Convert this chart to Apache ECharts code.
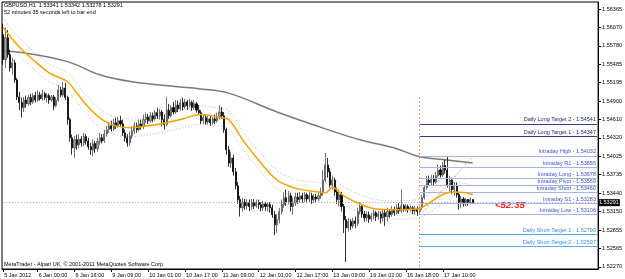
<!DOCTYPE html>
<html><head><meta charset="utf-8">
<script src="https://cdn.jsdelivr.net/npm/echarts@6/dist/echarts.min.js"></script>
<style>html,body{margin:0;padding:0;background:#fff}#c{width:625px;height:279px}</style>
</head><body><div id="c"></div>
<script>
// ---- data ----
const opens=[1.5596,1.5556,1.5591,1.5564,1.5543,1.5551,1.5524,1.5497,1.5488,1.5480,1.5492,
1.5486,1.5496,1.5489,1.5499,1.5492,1.5500,1.5494,1.5502,1.5496,1.5499,
1.5492,1.5497,1.5483,1.5492,1.5508,1.5500,1.5511,1.5496,1.5461,1.5432,
1.5416,1.5429,1.5421,1.5430,1.5424,1.5434,1.5427,1.5418,1.5413,1.5423,
1.5415,1.5426,1.5432,1.5427,1.5438,1.5445,1.5451,1.5446,1.5456,1.5451,
1.5459,1.5454,1.5440,1.5432,1.5424,1.5435,1.5443,1.5451,1.5445,1.5454,
1.5450,1.5461,1.5465,1.5459,1.5467,1.5462,1.5472,1.5467,1.5473,1.5461,
1.5453,1.5476,1.5467,1.5480,1.5473,1.5484,1.5478,1.5488,1.5481,1.5489,
1.5483,1.5488,1.5480,1.5486,1.5476,1.5472,1.5459,1.5464,1.5457,1.5462,
1.5456,1.5462,1.5459,1.5465,1.5473,1.5467,1.5445,1.5413,1.5392,1.5400,
1.5378,1.5356,1.5334,1.5321,1.5330,1.5324,1.5329,1.5323,1.5329,1.5324,
1.5330,1.5326,1.5321,1.5327,1.5323,1.5326,1.5321,1.5310,1.5294,1.5302,
1.5315,1.5326,1.5337,1.5330,1.5340,1.5323,1.5329,1.5338,1.5334,1.5340,
1.5335,1.5342,1.5335,1.5340,1.5334,1.5338,1.5335,1.5340,1.5345,1.5365,
1.5389,1.5378,1.5357,1.5365,1.5346,1.5334,1.5342,1.5323,1.5302,1.5289,
1.5299,1.5292,1.5300,1.5296,1.5315,1.5323,1.5311,1.5305,1.5310,1.5303,
1.5308,1.5313,1.5307,1.5311,1.5305,1.5313,1.5307,1.5315,1.5310,1.5318,
1.5313,1.5321,1.5316,1.5324,1.5319,1.5323,1.5318,1.5321,1.5316,1.5319,
1.5315,1.5321,1.5337,1.5353,1.5365,1.5361,1.5367,1.5362,1.5372,1.5381,
1.5373,1.5388,1.5381,1.5357,1.5365,1.5350,1.5356,1.5342,1.5329,1.5335,
1.5327,1.5334,1.5329,1.53341];
const closes=[1.5556,1.5591,1.5564,1.5543,1.5551,1.5524,1.5497,1.5488,1.5480,1.5492,1.5486,
1.5496,1.5489,1.5499,1.5492,1.5500,1.5494,1.5502,1.5496,1.5499,1.5492,
1.5497,1.5483,1.5492,1.5508,1.5500,1.5511,1.5496,1.5461,1.5432,1.5416,
1.5429,1.5421,1.5430,1.5424,1.5434,1.5427,1.5418,1.5413,1.5423,1.5415,
1.5426,1.5432,1.5427,1.5438,1.5445,1.5451,1.5446,1.5456,1.5451,1.5459,
1.5454,1.5440,1.5432,1.5424,1.5435,1.5443,1.5451,1.5445,1.5454,1.5450,
1.5461,1.5465,1.5459,1.5467,1.5462,1.5472,1.5467,1.5473,1.5461,1.5453,
1.5476,1.5467,1.5480,1.5473,1.5484,1.5478,1.5488,1.5481,1.5489,1.5483,
1.5488,1.5480,1.5486,1.5476,1.5472,1.5459,1.5464,1.5457,1.5462,1.5456,
1.5462,1.5459,1.5465,1.5473,1.5467,1.5445,1.5413,1.5392,1.5400,1.5378,
1.5356,1.5334,1.5321,1.5330,1.5324,1.5329,1.5323,1.5329,1.5324,1.5330,
1.5326,1.5321,1.5327,1.5323,1.5326,1.5321,1.5310,1.5294,1.5302,1.5315,
1.5326,1.5337,1.5330,1.5340,1.5323,1.5329,1.5338,1.5334,1.5340,1.5335,
1.5342,1.5335,1.5340,1.5334,1.5338,1.5335,1.5340,1.5345,1.5365,1.5389,
1.5378,1.5357,1.5365,1.5346,1.5334,1.5342,1.5323,1.5302,1.5289,1.5299,
1.5292,1.5300,1.5296,1.5315,1.5323,1.5311,1.5305,1.5310,1.5303,1.5308,
1.5313,1.5307,1.5311,1.5305,1.5313,1.5307,1.5315,1.5310,1.5318,1.5313,
1.5321,1.5316,1.5324,1.5319,1.5323,1.5318,1.5321,1.5316,1.5319,1.5315,
1.5321,1.5337,1.5353,1.5365,1.5361,1.5367,1.5362,1.5372,1.5381,1.5373,
1.5388,1.5381,1.5357,1.5365,1.5350,1.5356,1.5342,1.5329,1.5335,1.5327,
1.5334,1.5329,1.5334,1.53291];
const lows=[1.5548,1.5543,1.5559,1.5537,1.5532,1.5519,1.5492,1.5476,1.5464,1.5473,1.5480,
1.5483,1.5484,1.5486,1.5488,1.5489,1.5491,1.5491,1.5492,1.5488,1.5486,
1.5489,1.5476,1.5480,1.5489,1.5496,1.5497,1.5492,1.5453,1.5426,1.5405,
1.5400,1.5413,1.5416,1.5418,1.5419,1.5421,1.5413,1.5405,1.5403,1.5408,
1.5410,1.5421,1.5423,1.5424,1.5434,1.5440,1.5442,1.5443,1.5446,1.5448,
1.5450,1.5435,1.5426,1.5418,1.5419,1.5430,1.5438,1.5440,1.5442,1.5445,
1.5446,1.5456,1.5454,1.5456,1.5457,1.5459,1.5462,1.5461,1.5450,1.5445,
1.5450,1.5462,1.5464,1.5469,1.5470,1.5473,1.5475,1.5476,1.5478,1.5476,
1.5480,1.5475,1.5476,1.5472,1.5469,1.5454,1.5454,1.5453,1.5453,1.5451,
1.5453,1.5454,1.5456,1.5461,1.5462,1.5440,1.5405,1.5386,1.5384,1.5372,
1.5350,1.5327,1.5307,1.5315,1.5318,1.5318,1.5316,1.5318,1.5319,1.5321,
1.5319,1.5315,1.5316,1.5316,1.5315,1.5313,1.5305,1.5278,1.5281,1.5296,
1.5310,1.5321,1.5324,1.5326,1.5315,1.5310,1.5324,1.5327,1.5329,1.5329,
1.5330,1.5329,1.5330,1.5327,1.5329,1.5330,1.5332,1.5335,1.5340,1.5361,
1.5369,1.5353,1.5350,1.5340,1.5327,1.5323,1.5315,1.5281,1.5235,1.5283,
1.5286,1.5288,1.5289,1.5292,1.5310,1.5305,1.5299,1.5300,1.5297,1.5299,
1.5302,1.5300,1.5302,1.5296,1.5299,1.5292,1.5299,1.5305,1.5307,1.5308,
1.5310,1.5311,1.5313,1.5315,1.5315,1.5313,1.5315,1.5311,1.5310,1.5308,
1.53106,1.5318,1.5334,1.5350,1.5356,1.5357,1.5357,1.5359,1.5369,1.5369,
1.5370,1.5375,1.5353,1.5346,1.5343,1.5340,1.5337,1.5318,1.5321,1.5323,
1.5324,1.5324,1.5326,1.53278];
const highs=[1.5613,1.5607,1.5603,1.5572,1.5559,1.5556,1.5527,1.5505,1.5496,1.5497,1.5499,
1.5500,1.5502,1.5503,1.5505,1.5507,1.5505,1.5508,1.5505,1.5503,1.5502,
1.5500,1.5500,1.5496,1.5516,1.5513,1.5521,1.5519,1.5499,1.5464,1.5437,
1.5435,1.5437,1.5438,1.5435,1.5440,1.5438,1.5432,1.5424,1.5429,1.5427,
1.5432,1.5440,1.5438,1.5445,1.5451,1.5457,1.5459,1.5462,1.5464,1.5465,
1.5467,1.5461,1.5445,1.5438,1.5442,1.5450,1.5457,1.5456,1.5461,1.5461,
1.5469,1.5472,1.5470,1.5473,1.5472,1.5476,1.5480,1.5478,1.5476,1.5469,
1.5497,1.5486,1.5484,1.5489,1.5492,1.5491,1.5494,1.5496,1.5494,1.5492,
1.5494,1.5491,1.5492,1.5489,1.5484,1.5476,1.5470,1.5469,1.5467,1.5467,
1.5465,1.5469,1.5472,1.5484,1.5481,1.5473,1.5448,1.5419,1.5410,1.5405,
1.5384,1.5362,1.5340,1.5337,1.5335,1.5335,1.5334,1.5335,1.5335,1.5334,
1.5334,1.5330,1.5332,1.5330,1.5329,1.5330,1.5326,1.5316,1.5311,1.5321,
1.5334,1.5345,1.5350,1.5348,1.5345,1.5337,1.5345,1.5345,1.5346,1.5345,
1.5346,1.5345,1.5346,1.5345,1.5343,1.5343,1.5345,1.5353,1.5381,1.5408,
1.5400,1.5384,1.5372,1.5369,1.5353,1.5350,1.5346,1.5327,1.5308,1.5305,
1.5303,1.5305,1.5307,1.5321,1.5330,1.5326,1.5316,1.5315,1.5315,1.5313,
1.5318,1.5316,1.5316,1.5315,1.5319,1.5318,1.5321,1.5319,1.5324,1.5323,
1.5327,1.5329,1.5350,1.5327,1.5327,1.5326,1.5326,1.5324,1.5324,1.5323,
1.5326,1.5342,1.5357,1.5372,1.5372,1.5373,1.5373,1.5378,1.5389,1.5388,
1.5394,1.5397,1.54032,1.5372,1.5369,1.5362,1.5361,1.5346,1.5340,1.5338,
1.5337,1.5335,1.5337,1.53342];

// moving averages: [bar index, price] points
const maFast=[[0,1.5607],[7,1.5576],[13,1.5556],[20,1.5535],[28,1.5521],[32,1.5503],[37,1.5481],[43,1.5461],[49,1.5451],[56,1.5448],[63,1.5451],[71,1.5456],[78,1.5462],[86,1.5469],[95,1.5464],[98,1.5461],[105,1.5424],[112,1.5392],[119,1.5365],[124,1.5356],[128,1.5351],[137,1.5346],[140,1.5345],[143,1.5353],[148,1.5340],[155,1.5327],[162,1.5319],[170,1.5318],[180,1.5319],[184,1.5326],[191,1.5342],[196,1.5346],[201,1.5345],[204,1.5342]];
const envUpper=[[0,1.5621],[7,1.5591],[13,1.5570],[20,1.5549],[28,1.5535],[32,1.5518],[37,1.5496],[43,1.5475],[49,1.5465],[56,1.5462],[63,1.5465],[71,1.5470],[78,1.5476],[86,1.5483],[95,1.5478],[98,1.5475],[105,1.5438],[112,1.5407],[119,1.5380],[124,1.5370],[128,1.5365],[137,1.5361],[140,1.5359],[143,1.5367],[148,1.5354],[155,1.5342],[162,1.5334],[170,1.5332],[180,1.5334],[184,1.5340],[191,1.5356],[196,1.5361],[201,1.5359],[204,1.5356]];
const envLower=[[0,1.5592],[7,1.5562],[13,1.5542],[20,1.5521],[28,1.5507],[32,1.5489],[37,1.5467],[43,1.5446],[49,1.5437],[56,1.5434],[63,1.5437],[71,1.5442],[78,1.5448],[86,1.5454],[95,1.5450],[98,1.5446],[105,1.5410],[112,1.5378],[119,1.5351],[124,1.5342],[128,1.5337],[137,1.5332],[140,1.5330],[143,1.5338],[148,1.5326],[155,1.5313],[162,1.5305],[170,1.5303],[180,1.5305],[184,1.5311],[191,1.5327],[196,1.5332],[201,1.5330],[204,1.5327]];
const maSlow=[[0,1.5570],[9,1.5567],[28,1.5553],[42,1.5532],[56,1.5521],[76,1.5513],[85,1.5510],[98,1.5503],[119,1.5473],[141,1.5445],[155,1.5429],[170,1.5416],[181,1.5402],[193,1.5397],[204,1.5392]];

const tickIndex=[0,15,31,47,63,79,95,111,127,143,159,175,191];
const tickLabels=['5 Jan 2012','6 Jan 00:00','6 Jan 16:00','9 Jan 09:00','10 Jan 01:00','10 Jan 17:00','11 Jan 09:00','12 Jan 01:00','12 Jan 17:00','13 Jan 09:00','16 Jan 02:00','16 Jan 18:00','17 Jan 10:00'];
const yTicks=[1.56365,1.56070,1.55780,1.55485,1.55195,1.54900,1.54610,1.54320,1.54025,1.53735,1.53440,1.53150,1.52855,1.52565,1.52270];

const levelNames=['Daily Long Target 2','Daily Long Target 1','Intraday High','Intraday R1','Intraday Long','Intraday Pivot','Intraday Short','Intraday S1','Intraday Low','Daily Short Target 1','Daily Short Target 2'];
const levelValues=[1.54541,1.54347,1.54032,1.53855,1.53678,1.53569,1.53460,1.53283,1.53106,1.52790,1.52597];
const levelKinds=['long','long','intra','intra','intra','intra','intra','intra','intra','short','short'];

const currentPrice=1.53291;
const dayStartIndex=181;
const slotCount=259;
const yMin=1.52238, yMax=1.56476;

// ---- chart ----
const cats=[];for(let i=0;i<slotCount;i++)cats.push(String(i));
const candles=opens.map((o,i)=>[o,closes[i],lows[i],highs[i]]);
const tickSet=new Map(tickIndex.map((t,k)=>[t,tickLabels[k]]));
const FONT='"Liberation Sans", Arial, sans-serif';
const kindStyle={
  long:{line:'#3a3a86',text:'#1c1c70'},
  intra:{line:'#a4b4ee',text:'#3c54c8'},
  short:{line:'#5aa8f0',text:'#3a8ee6'}
};
const levelLines=levelValues.map((v,k)=>{
  const st=kindStyle[levelKinds[k]];
  return [{coord:[cats[dayStartIndex],v],lineStyle:{color:st.line,width:1,type:'solid'},
    label:{show:true,position:'insideEndTop',distance:[1,1],formatter:levelNames[k]+' - '+v.toFixed(5),
      color:st.text,fontSize:5.5,fontFamily:FONT}},
    {coord:[cats[slotCount-1],v]}];
});
const chart=echarts.init(document.getElementById('c'),null,{renderer:'canvas'});
chart.setOption({
  animation:false,
  backgroundColor:'#ffffff',
  grid:{left:2,right:22,top:2,bottom:10,show:true,borderColor:'#000',borderWidth:1,backgroundColor:'transparent'},
  xAxis:{type:'category',data:cats,boundaryGap:true,
    axisLine:{lineStyle:{color:'#000',width:1}},
    axisTick:{show:true,alignWithLabel:true,length:3,interval:(i)=>tickSet.has(i),lineStyle:{color:'#000'}},
    axisLabel:{interval:(i)=>tickSet.has(i),formatter:(v,i)=>tickSet.get(Number(v))||'',align:'left',margin:3,
      fontSize:5.5,color:'#000',fontFamily:FONT,padding:[0,0,0,1]},
    splitLine:{show:false}},
  yAxis:{type:'value',position:'right',min:yMin,max:yMax,scale:true,
    axisLine:{show:true,lineStyle:{color:'#000',width:1}},
    axisTick:{show:true,length:3,customValues:yTicks,lineStyle:{color:'#000'}},
    axisLabel:{customValues:yTicks,formatter:(v)=>v.toFixed(5),fontSize:5.5,color:'#000',margin:4,fontFamily:FONT},
    splitLine:{show:false}},
  graphic:[
    {type:'text',left:4,top:2,style:{text:'GBPUSD,H1  1.53341 1.53342 1.53278 1.53291',fill:'#000',font:'5.5px '+FONT}},
    {type:'text',left:4,top:9,style:{text:'52 minutes 35 seconds left to bar end',fill:'#000',font:'5.5px '+FONT}},
    {type:'text',left:4,top:261,style:{text:'MetaTrader - Alpari UK, © 2001-2011 MetaQuotes Software Corp.',fill:'#000',font:'5.5px '+FONT}},
    {type:'text',left:495,top:200,style:{text:'<52:35',fill:'#ff1a1a',font:'italic bold 9.5px '+FONT}}
  ],
  series:[
    {type:'line',data:envUpper,showSymbol:false,smooth:0.4,lineStyle:{color:'#b8b8b8',width:1,type:[1,2]},z:2},
    {type:'line',data:envLower,showSymbol:false,smooth:0.4,lineStyle:{color:'#b8b8b8',width:1,type:[1,2]},z:2},
    {type:'line',data:maSlow,showSymbol:false,smooth:0.4,lineStyle:{color:'#7a7a7a',width:1.5},z:3},
    {type:'candlestick',data:candles,barWidth:1.6,z:4,
      itemStyle:{color:'#a8a8a8',color0:'#000000',borderColor:'#505050',borderColor0:'#000000',borderWidth:0.8},
      markLine:{silent:true,symbol:['none','none'],animation:false,
        data:[
          [{coord:[cats[0],currentPrice],lineStyle:{color:'#a0a0a0',width:1,type:[1,2]},
            label:{show:true,position:'end',distance:1,formatter:currentPrice.toFixed(5),color:'#fff',backgroundColor:'#000',padding:[1,1,0,1],fontSize:5.5,fontFamily:FONT}},
           {coord:[cats[slotCount-1],currentPrice]}],
          [{coord:[cats[dayStartIndex],1.5497],lineStyle:{color:'#f08a78',width:1,type:[2,2]},label:{show:false}},{coord:[cats[dayStartIndex],yMin]}],
          [{coord:[cats[182],1.5313],lineStyle:{color:'#f0907a',width:1,type:[2,2]},label:{show:false}},{coord:[cats[204],1.5402]}],
          ...levelLines
        ]}},
    {type:'line',data:maFast,showSymbol:false,smooth:0.4,lineStyle:{color:'#f5a300',width:1.5},z:5}
  ]
});
</script></body></html>
